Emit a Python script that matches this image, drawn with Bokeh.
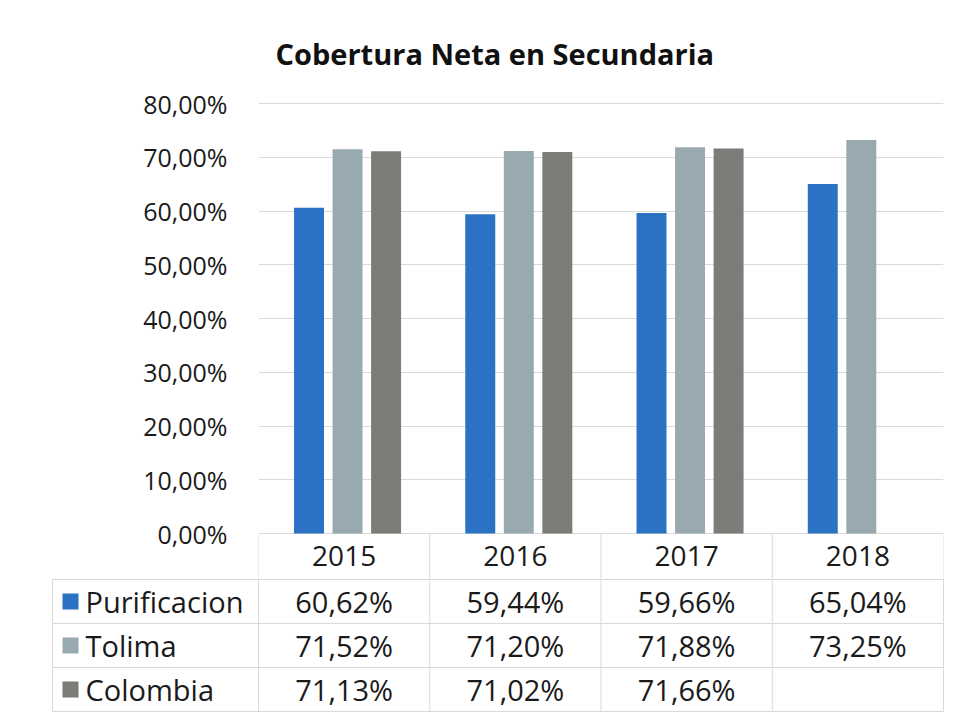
from bokeh.plotting import figure
from bokeh.layouts import column
from bokeh.models import Range1d, FixedTicker
from bokeh.core.properties import value
from bokeh.embed import file_html
from bokeh.resources import INLINE

# ---------------- data ----------------
years = ["2015", "2016", "2017", "2018"]
series = ["Purificacion", "Tolima", "Colombia"]
purificacion = [60.62, 59.44, 59.66, 65.04]
tolima = [71.52, 71.20, 71.88, 73.25]
colombia = [71.13, 71.02, 71.66, None]
y_ticks = [0, 10, 20, 30, 40, 50, 60, 70, 80]
title_text = "Cobertura Neta en Secundaria"

colors = ["#2C72C4", "#98A9AF", "#7A7D78"]
values = [purificacion, tolima, colombia]
offsets = [-0.205, 0.02, 0.245]
BAR_W = 0.175
FONT = "Open Sans"
GRID = "#d9d9d9"
TXT = "#1a1a1a"

def fmt(v):
    return f"{v:.2f}".replace(".", ",") + "%"

U = 685 / 4.0          # px per category
HEADER_BOTTOM = -8.37  # header row of the table lies below 0 in the chart frame

# ---------------- chart (with table header row) ----------------
p1 = figure(width=953, height=578, output_backend="svg", toolbar_location=None,
            x_range=Range1d(-0.5, 3.5), y_range=Range1d(HEADER_BOTTOM, 80.4),
            min_border_left=258, min_border_right=10, min_border_top=101,
            min_border_bottom=0)
p1.frame_align = False
p1.xaxis.visible = False
p1.xgrid.visible = False
p1.outline_line_color = None
p1.ygrid.grid_line_color = GRID
p1.ygrid.grid_line_width = 1
p1.yaxis.ticker = FixedTicker(ticks=y_ticks)
p1.yaxis.major_label_overrides = {t: f"{t},00%" for t in y_ticks}
p1.yaxis.axis_line_color = None
p1.yaxis.major_tick_line_color = None
p1.yaxis.minor_tick_line_color = None
p1.yaxis.major_label_standoff = 25
p1.yaxis.major_label_text_font = FONT
p1.yaxis.major_label_text_font_size = "25px"
p1.yaxis.major_label_text_color = TXT

p1.title.text = title_text
p1.title.text_font = FONT
p1.title.text_font_style = "bold"
p1.title.text_font_size = "29px"
p1.title.text_color = "#111111"
p1.title.align = "left"
p1.title.offset = 17
p1.title.standoff = 57

for j, name in enumerate(series):
    xs, tops = [], []
    for i, v in enumerate(values[j]):
        if v is not None:
            xs.append(i + offsets[j])
            tops.append(v)
    p1.vbar(x=xs, top=tops, width=BAR_W, bottom=0, fill_color=colors[j], line_color=None)

bounds = [i - 0.5 for i in range(len(years) + 1)]
p1.segment(x0=bounds, x1=bounds, y0=[0] * len(bounds), y1=[HEADER_BOTTOM] * len(bounds),
           line_color=GRID, line_width=1)
p1.text(x=list(range(len(years))), y=[HEADER_BOTTOM / 2] * len(years), text=years,
        text_align="center", text_baseline="middle", text_font=value(FONT),
        text_font_size=value("28px"), text_color=TXT)

# ---------------- data table rows ----------------
LEFT_PX = 206          # width of the legend column in px
x0 = -0.5 - 218 / U
p2 = figure(width=953, height=134, output_backend="svg", toolbar_location=None,
            x_range=Range1d(x0, 3.5 + 4 / U), y_range=Range1d(133, -1),
            min_border_left=40, min_border_right=6, min_border_top=0,
            min_border_bottom=0)
p2.frame_align = False
p2.axis.visible = False
p2.grid.visible = False
p2.outline_line_color = None

row_edges = [0, 44, 88, 132]
row_centers = [22, 66, 110]
leg_left = -0.5 - LEFT_PX / U
p2.segment(x0=[leg_left] * len(row_edges), x1=[3.5] * len(row_edges),
           y0=row_edges, y1=row_edges, line_color=GRID, line_width=1)
p2.segment(x0=bounds, x1=bounds, y0=[-1] * len(bounds), y1=[132] * len(bounds),
           line_color=GRID, line_width=1)
p2.segment(x0=[leg_left], x1=[leg_left], y0=[0], y1=[132], line_color=GRID, line_width=1)

# legend keys + names
key_x = leg_left + 18 / U
name_x = leg_left + 33 / U
p2.scatter(x=[key_x] * 3, y=row_centers, marker="square", size=16,
           fill_color=colors, line_color=None)
p2.text(x=[name_x] * 3, y=row_centers, text=series, text_align="left",
        text_baseline="middle", text_font=value(FONT), text_font_size=value("29px"),
        text_color=TXT)

# values
tx, ty, tt = [], [], []
for j in range(len(series)):
    for i, v in enumerate(values[j]):
        if v is not None:
            tx.append(i)
            ty.append(row_centers[j])
            tt.append(fmt(v))
p2.text(x=tx, y=ty, text=tt, text_align="center", text_baseline="middle",
        text_font=value(FONT), text_font_size=value("29px"), text_color=TXT)

layout = column(p1, p2, spacing=0)
open("out.html", "w").write(file_html(layout, INLINE))
